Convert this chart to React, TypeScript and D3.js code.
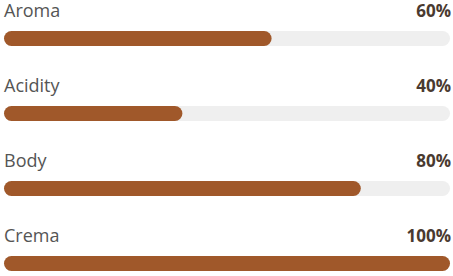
import React from "react";
import * as d3 from "d3";

const categories = ["Aroma", "Acidity", "Body", "Crema"];
const values = [60, 40, 80, 100];

const W = 453;
const H = 276;

export default function App() {
  const left = 4;
  const right = 450;
  const x = d3.scaleLinear().domain([0, 100]).range([0, right - left]);
  const rowH = 75;
  const barY = 31;
  const barH = 15;
  return (
    <svg
      width={W}
      height={H}
      style={{ position: "absolute", left: 0, top: 0, fontFamily: "'Open Sans', sans-serif" }}
    >
      {categories.map((c, i) => {
        const y0 = i * rowH;
        return (
          <g key={c} transform={`translate(0,${y0})`}>
            <text x={left} y={17} fontSize={18} fill="#555555">
              {c}
            </text>
            <text x={right + 1} y={17} fontSize={17} fontWeight={700} fill="#4a3a30" textAnchor="end">
              {values[i]}%
            </text>
            <rect x={left} y={barY} width={x(100)} height={barH} rx={barH / 2} fill="#efefef" />
            <rect x={left} y={barY} width={x(values[i])} height={barH} rx={barH / 2} fill="#a0582a" />
          </g>
        );
      })}
    </svg>
  );
}
